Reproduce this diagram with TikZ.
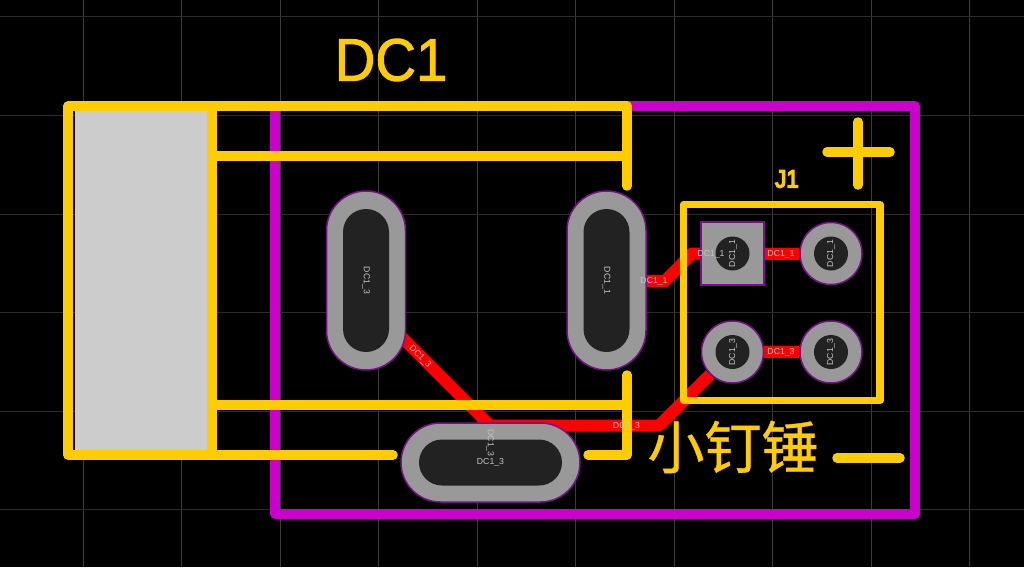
\documentclass[tikz,border=0pt]{standalone}
\usetikzlibrary{shapes.misc}
\usepackage{fontspec}
\setmainfont{Liberation Sans}
\newfontfamily\cjk[FakeBold=0.6]{Noto Sans CJK SC}
\newfontfamily\silkfont[FakeBold=1.6]{Liberation Sans}
\newfontfamily\refdesfont[FakeBold=6]{Liberation Sans}
\definecolor{silk}{HTML}{FFCC00}
\definecolor{edge}{HTML}{CC00CC}
\definecolor{padgray}{HTML}{999999}
\definecolor{holegray}{HTML}{222222}
\definecolor{padline}{HTML}{7A0F8C}
\definecolor{gridv}{HTML}{3C3C3C}
\definecolor{gridh}{HTML}{2C2C2C}
\definecolor{labelgray}{HTML}{C4C4C4}
\pgfdeclarelayer{board}
\pgfdeclarelayer{copper}
\pgfsetlayers{board,copper,main}
\tikzset{
  silkline/.style={draw=silk,line width=9.5pt,line cap=round,line join=round},
  trace/.style={draw=red,line width=12pt,line join=round},
  padbody/.style={draw=padline,fill=padgray,line width=1.5pt,inner sep=0pt},
  longpad/.style={padbody,rounded rectangle,minimum width=179pt,minimum height=79pt},
  hole/.style={fill=holegray,inner sep=0pt},
  longhole/.style={hole,rounded rectangle,minimum width=143pt,minimum height=46pt},
  netlabel/.style={text=labelgray,font=\fontsize{8.7}{8.7}\selectfont,inner sep=0pt},
}
\begin{document}
\begin{tikzpicture}[x=1pt,y=-1pt]
        \useasboundingbox(0,0)rectangle(1024,567);
        \begin{pgfonlayer}{board}
        \fill[black](0,0)rectangle(1024,567);
        \foreach \x in {83,181.5,280,378.5,477,575.5,674,772.5,871,969.5} \draw[gridv,line width=1pt](\x,0)--(\x,567);
        \foreach \y in {17,115.5,214,312.5,411,509.5} \draw[gridh,line width=1pt](0,\y)--(1024,\y);
        \draw[draw=edge,line width=9.5pt,line join=round](275,106)rectangle(915,514);
        \fill[black!20](75,111)rectangle(207,455);
        \end{pgfonlayer}

        % pads
        \node[longpad,rotate=90](padl)at(366,280.5){};
        \node[longpad,rotate=90](padr)at(606.5,280.5){};
        \node[longpad](padb)at(490.5,462.5){};
        \node[padbody,rectangle,minimum size=63pt](pina)at(732.5,253.5){};
        \node[padbody,circle,minimum size=62pt](pinb)at(831,253.5){};
        \node[padbody,circle,minimum size=62pt](pinc)at(732.5,352){};
        \node[padbody,circle,minimum size=62pt](pind)at(831,352){};
        \node[longhole,rotate=90](holel)at(padl){};
        \node[longhole,rotate=90](holer)at(padr){};
        \node[longhole](holeb)at(padb){};
        \foreach \n/\p in {holea/pina,holeq/pinb,holec/pinc,holed/pind} \node[hole,circle,minimum size=34pt](\n)at(\p){};

        % traces go under the pads
        \coordinate(ka)at(665,281);
        \coordinate(kb)at(692,253.5);
        \coordinate(kc)at(659,425.5);
        \coordinate(kd)at(490,425.5);
        \coordinate(ke)at(395,330.5);
        \begin{pgfonlayer}{copper}
        \draw[trace](padr)--(ka)--(kb)--(pina);
        \draw[trace](pina)--(pinb);
        \draw[trace](pinc)--(pind);
        \draw[trace](pinc)--(kc)--(kd)--(ke)--(padl);
        \end{pgfonlayer}

        % silkscreen
        \draw[silkline](393,455)--(68,455)--(68,106)--(627,106)--(627,186);
        \draw[silkline](212,106)--(212,455);
        \draw[silkline](212,156)--(627,156);
        \draw[silkline](212,405)--(627,405);
        \draw[silkline](627,375)--(627,455)--(588,455);
        \draw[silkline,line width=7.5pt](683.5,204.5)rectangle(880,400.5);
        \draw[silkline](827,152)--(890,152);
        \draw[silkline](858,122)--(858,185);
        \draw[silkline](837,458)--(900,458);

        \node[text=silk,font=\silkfont\fontsize{60}{60}\selectfont,inner sep=0pt,xscale=.94](dc)at(391,60){DC1};
        \node[text=silk,font=\refdesfont\fontsize{25}{25}\selectfont,inner sep=0pt,xscale=.9](jname)at(787,179){J1};
        \node[text=silk,font=\cjk\fontsize{57}{57}\selectfont,inner sep=0pt](hammer)at(733,447){小钉锤};

        % net names
        \node[netlabel,rotate=-90](la)at(366,280.5){DC1\_3};
        \node[netlabel,rotate=-90](lb)at(606.5,280.5){DC1\_1};
        \node[netlabel](lc)at(490.5,462.5){DC1\_3};
        \node[netlabel,rotate=-90](ld)at(490,443){DC1\_3};
        \node[netlabel,rotate=90](le)at(733,253.5){DC1\_1};
        \node[netlabel,rotate=90](lf)at(831,253.5){DC1\_1};
        \node[netlabel,rotate=90](lg)at(733,352){DC1\_3};
        \node[netlabel,rotate=90](lh)at(831,352){DC1\_3};
        \node[netlabel](li)at(654,281){DC1\_1};
        \node[netlabel](lj)at(711,254){DC1\_1};
        \node[netlabel](lk)at(781,254){DC1\_1};
        \node[netlabel](ll)at(781,352){DC1\_3};
        \node[netlabel](lm)at(626.5,426){DC1\_3};
        \node[netlabel,rotate=-45](ln)at(420,357){DC1\_3};
    \end{tikzpicture}
\end{document}
